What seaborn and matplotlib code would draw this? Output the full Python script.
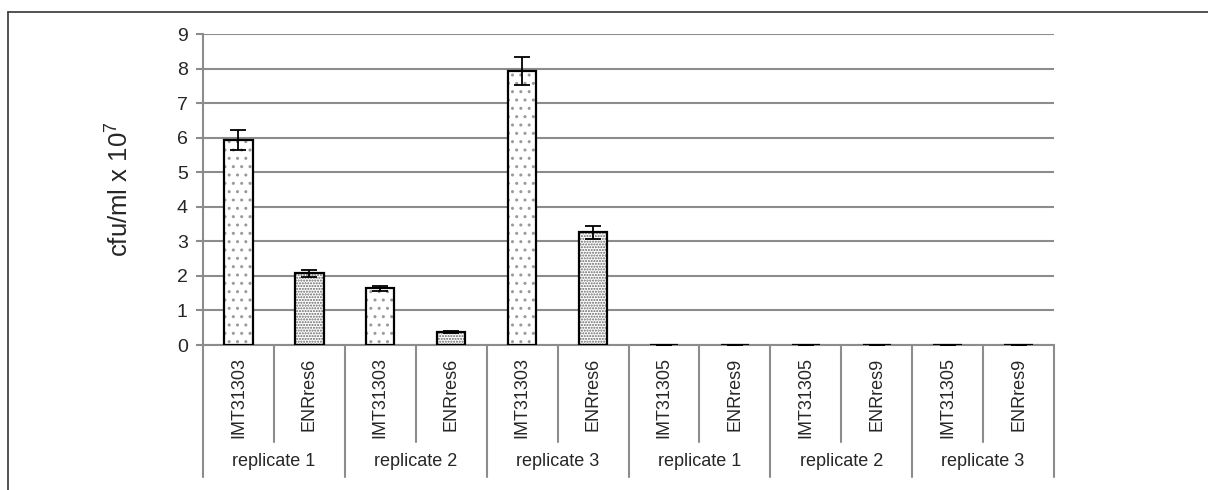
import numpy as np
import pandas as pd
import seaborn as sns
import matplotlib.pyplot as plt
from matplotlib.lines import Line2D

strains = ["IMT31303", "ENRres6", "IMT31303", "ENRres6", "IMT31303", "ENRres6",
           "IMT31305", "ENRres9", "IMT31305", "ENRres9", "IMT31305", "ENRres9"]
kinds = ["wt", "res"] * 6
groups = ["replicate 1", "replicate 2", "replicate 3",
          "replicate 1", "replicate 2", "replicate 3"]
values = [5.93, 2.07, 1.64, 0.38, 7.93, 3.26, 0, 0, 0, 0, 0, 0]
errors = [0.30, 0.10, 0.07, 0.03, 0.40, 0.18, 0, 0, 0, 0, 0, 0]

keys = [f"{s}_{i}" for i, s in enumerate(strains)]
df = pd.DataFrame({"key": keys, "value": values, "kind": kinds})

sns.set_style("white")
plt.rcParams["font.family"] = ["Liberation Sans", "DejaVu Sans"]
plt.rcParams["mathtext.fontset"] = "custom"
plt.rcParams["mathtext.rm"] = "Liberation Sans"
plt.rcParams["hatch.linewidth"] = 1.0

grid_c = "#8c8c8c"

fig = plt.figure(figsize=(12.08, 4.9), dpi=100)
ax = fig.add_axes([203/1208, 1-345/490, 851/1208, 311/490])

# hatched fill layer
sns.barplot(data=df, x="key", y="value", hue="kind", order=keys, dodge=False,
            width=0.4, errorbar=None, legend=False, ax=ax,
            palette={"wt": "white", "res": "white"}, linewidth=0, zorder=2)
for p in ax.patches:
    idx = int(round(p.get_x() + p.get_width() / 2))
    if kinds[idx] == "wt":
        p.set_hatch("..")
        p.set_edgecolor("#9a9a9a")
    else:
        p.set_hatch("......")
        p.set_edgecolor("#666666")
    p.set_linewidth(0)
# outline layer
sns.barplot(data=df, x="key", y="value", hue="kind", order=keys, dodge=False,
            width=0.4, errorbar=None, legend=False, ax=ax, fill=False,
            palette={"wt": "black", "res": "black"}, linewidth=1.6, zorder=3)

ax.errorbar(np.arange(len(keys)), values, yerr=errors, fmt="none", ecolor="black",
            elinewidth=1.3, capsize=6, capthick=1.3, zorder=4)

ax.set_xlim(-0.5, 11.5)
ax.set_ylim(0, 9)
ax.set_yticks(range(10))
ax.yaxis.grid(True, color=grid_c, linewidth=1.5, zorder=0)
ax.set_axisbelow(True)
for s in ["top", "right"]:
    ax.spines[s].set_visible(False)
for s in ["left", "bottom"]:
    ax.spines[s].set_color(grid_c)
    ax.spines[s].set_linewidth(1.5)
ax.tick_params(axis="y", left=True, length=5, width=1.5, color=grid_c,
               labelsize=14, pad=6)
ax.tick_params(axis="x", bottom=False, length=0, pad=9)
ax.set_xticks(range(len(keys)))
ax.set_xticklabels(strains, rotation=90, fontsize=13, va="top")
ax.set_xlabel("")
ax.set_ylabel("cfu/ml x 10$^{7}$", fontsize=18.5)
ax.yaxis.set_label_coords(-0.083, 0.5)

# category dividers under the axis
tr = ax.get_xaxis_transform()
for i in range(13):
    x = i - 0.5
    y_end = -0.424 if i % 2 == 0 else -0.312
    ax.add_line(Line2D([x, x], [0, y_end], transform=tr, color=grid_c,
                       linewidth=1.5, clip_on=False))
for j, g in enumerate(groups):
    ax.text(2*j + 0.5, -0.376, g, transform=tr, ha="center", va="center",
            fontsize=13)

# outer frame (top and left visible)
fig.add_artist(Line2D([8/1208, 1.0], [1-12/490, 1-12/490], transform=fig.transFigure,
                      color="#444444", linewidth=1.3))
fig.add_artist(Line2D([8/1208, 8/1208], [0, 1-12/490], transform=fig.transFigure,
                      color="#444444", linewidth=1.3))

fig.savefig("out.png", dpi=100)
